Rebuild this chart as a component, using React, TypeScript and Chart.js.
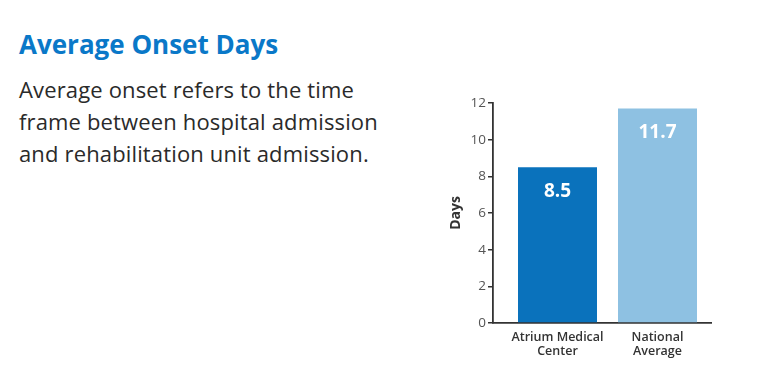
import React, { useEffect, useRef } from "react";
import { Chart, registerables } from "chart.js";

Chart.register(...registerables);

const categories: string[][] = [["Atrium Medical", "Center"], ["National", "Average"]];
const values: number[] = [8.5, 11.7];
const valueLabels: string[] = ["8.5", "11.7"];
const barColors: string[] = ["#0a72bc", "#8ec1e2"];
const yMin = 0;
const yMax = 12;
const yStep = 2;

const FONT = "'Open Sans', 'Noto Sans', sans-serif";

const valueLabelPlugin = {
  id: "valueLabels",
  afterDatasetsDraw(chart: any) {
    const ctx = chart.ctx;
    const meta = chart.getDatasetMeta(0);
    ctx.save();
    ctx.fillStyle = "#ffffff";
    ctx.font = `bold 19px ${FONT}`;
    ctx.textAlign = "center";
    ctx.textBaseline = "middle";
    meta.data.forEach((bar: any, i: number) => {
      ctx.fillText(valueLabels[i], bar.x, bar.y + 24);
    });
    ctx.restore();
  },
};

export default function App() {
  const ref = useRef<HTMLCanvasElement | null>(null);

  useEffect(() => {
    if (!ref.current) return;
    const chart = new Chart(ref.current, {
      type: "bar",
      data: {
        datasets: [
          {
            data: values.map((v, i) => ({ x: i, y: v })),
            backgroundColor: barColors,
            borderWidth: 0,
            barPercentage: 0.79,
            categoryPercentage: 1,
          },
        ],
      },
      options: {
        responsive: false,
        animation: false,
        events: [],
        layout: { padding: { top: 13, right: 19, bottom: 0, left: 0 } },
        plugins: { legend: { display: false }, tooltip: { enabled: false } },
        scales: {
          x: {
            type: "linear",
            offset: false,
            min: -0.645,
            max: 1.535,
            afterBuildTicks: (scale: any) => {
              scale.ticks = categories.map((_, i) => ({ value: i }));
            },
            afterFit: (scale: any) => {
              scale.height = 52;
            },
            grid: { display: false, offset: false },
            border: { display: true, color: "#333333", width: 1.8 },
            ticks: {
              autoSkip: false,
              maxRotation: 0,
              padding: 0,
              color: "#333333",
              font: { family: FONT, size: 12.5, weight: "600", lineHeight: 1.1 },
              callback: (v: any) => categories[v as number] ?? "",
            },
          },
          y: {
            min: yMin,
            max: yMax,
            afterFit: (scale: any) => {
              scale.width = 45;
            },
            grid: {
              display: true,
              drawOnChartArea: false,
              drawTicks: true,
              tickLength: 5,
              color: "#333333",
              lineWidth: 1.5,
            },
            border: { display: true, color: "#333333", width: 1.8 },
            ticks: {
              stepSize: yStep,
              padding: 2,
              color: "#555555",
              font: { family: FONT, size: 13.5 },
            },
            title: {
              display: true,
              text: "Days",
              color: "#333333",
              padding: { top: 0, bottom: 0 },
              font: { family: FONT, size: 14, weight: "bold" },
            },
          },
        },
      },
      plugins: [valueLabelPlugin],
    });
    return () => chart.destroy();
  }, []);

  return (
    <div style={{ position: "fixed", left: 0, top: 0, width: 760, height: 378, background: "#ffffff", overflow: "hidden", fontFamily: FONT }}>
      <div style={{ position: "absolute", left: 19, top: 26, fontSize: 26, fontWeight: 700, color: "#0a78c8", letterSpacing: 0, whiteSpace: "nowrap" }}>
        Average Onset Days
      </div>
      <div style={{ position: "absolute", left: 19, top: 73, fontSize: 22, lineHeight: "32px", color: "#2a2a2a", width: 420, letterSpacing: 0.15, whiteSpace: "nowrap" }}>
        Average onset refers to the time<br />
        frame between hospital admission<br />
        and rehabilitation unit admission.
      </div>
      <canvas ref={ref} width={282} height={285} style={{ position: "absolute", left: 448, top: 90, width: 282, height: 285 }} />
    </div>
  );
}
